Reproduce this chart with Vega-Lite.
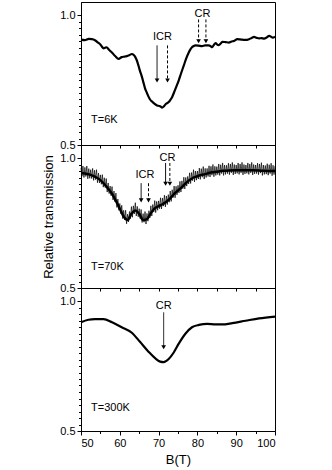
{
  "$schema": "https://vega.github.io/schema/vega-lite/v6.json",
  "padding": {"left": 42, "top": 1, "right": 5, "bottom": 0},
  "background": "white",
  "config": {
    "view": {"stroke": "black", "strokeWidth": 1},
    "axis": {"domainColor": "black", "tickColor": "black", "labelColor": "black", "titleColor": "black", "grid": false, "labelFont": "Liberation Sans", "titleFont": "Liberation Sans", "titleFontWeight": "normal", "labelFontSize": 11, "labelOverlap": false},
    "text": {"font": "Liberation Sans", "fontSize": 11, "color": "black"}
  },
  "datasets": {
    "p1": [
      {"B": 50, "v": 0.905}, {"B": 51, "v": 0.903}, {"B": 52, "v": 0.908}, {"B": 52.8, "v": 0.907}, {"B": 53.6, "v": 0.903},
      {"B": 54.3, "v": 0.895}, {"B": 54.9, "v": 0.888}, {"B": 55.4, "v": 0.878}, {"B": 55.8, "v": 0.872}, {"B": 56.2, "v": 0.874},
      {"B": 56.6, "v": 0.876}, {"B": 57.2, "v": 0.866}, {"B": 57.9, "v": 0.857}, {"B": 58.8, "v": 0.842}, {"B": 59.7, "v": 0.831},
      {"B": 60.5, "v": 0.838}, {"B": 61.2, "v": 0.84}, {"B": 61.8, "v": 0.842}, {"B": 62.5, "v": 0.846}, {"B": 63.1, "v": 0.85},
      {"B": 63.6, "v": 0.846}, {"B": 64.0, "v": 0.838}, {"B": 64.4, "v": 0.825}, {"B": 64.8, "v": 0.806}, {"B": 65.2, "v": 0.785},
      {"B": 65.7, "v": 0.762}, {"B": 66.1, "v": 0.74}, {"B": 66.5, "v": 0.718}, {"B": 67.0, "v": 0.7}, {"B": 67.4, "v": 0.686},
      {"B": 67.8, "v": 0.675}, {"B": 68.3, "v": 0.667}, {"B": 68.9, "v": 0.659}, {"B": 69.6, "v": 0.652}, {"B": 70.2, "v": 0.65},
      {"B": 70.5, "v": 0.648}, {"B": 70.9, "v": 0.644}, {"B": 71.3, "v": 0.648}, {"B": 71.7, "v": 0.655}, {"B": 72.1, "v": 0.66},
      {"B": 72.6, "v": 0.665}, {"B": 73.0, "v": 0.673}, {"B": 73.5, "v": 0.685}, {"B": 73.9, "v": 0.699}, {"B": 74.5, "v": 0.722},
      {"B": 75.2, "v": 0.749}, {"B": 75.8, "v": 0.776}, {"B": 76.5, "v": 0.806}, {"B": 77.1, "v": 0.832}, {"B": 77.8, "v": 0.857},
      {"B": 78.2, "v": 0.868}, {"B": 78.6, "v": 0.876}, {"B": 79.0, "v": 0.88}, {"B": 79.5, "v": 0.883}, {"B": 80.3, "v": 0.882},
      {"B": 81.2, "v": 0.88}, {"B": 82.0, "v": 0.883}, {"B": 82.9, "v": 0.883}, {"B": 83.4, "v": 0.88}, {"B": 83.8, "v": 0.876},
      {"B": 84.2, "v": 0.884}, {"B": 84.7, "v": 0.892}, {"B": 85.1, "v": 0.886}, {"B": 85.5, "v": 0.884}, {"B": 86.0, "v": 0.89},
      {"B": 86.4, "v": 0.897}, {"B": 87.2, "v": 0.896}, {"B": 88.1, "v": 0.894}, {"B": 88.8, "v": 0.898}, {"B": 89.4, "v": 0.9},
      {"B": 90.3, "v": 0.907}, {"B": 91.0, "v": 0.906}, {"B": 91.6, "v": 0.905}, {"B": 92.4, "v": 0.904}, {"B": 93.3, "v": 0.907},
      {"B": 94.0, "v": 0.912}, {"B": 94.6, "v": 0.916}, {"B": 95.3, "v": 0.912}, {"B": 95.9, "v": 0.91}, {"B": 96.5, "v": 0.911},
      {"B": 97.2, "v": 0.909}, {"B": 97.9, "v": 0.914}, {"B": 98.5, "v": 0.92}, {"B": 99.0, "v": 0.916}, {"B": 99.4, "v": 0.913},
      {"B": 100, "v": 0.917}
    ],
    "p2m": [
      {"B": 50, "v": 0.942}, {"B": 51, "v": 0.94}, {"B": 52, "v": 0.937}, {"B": 53, "v": 0.932}, {"B": 54, "v": 0.925},
      {"B": 55, "v": 0.915}, {"B": 56, "v": 0.9}, {"B": 57, "v": 0.882}, {"B": 58, "v": 0.862}, {"B": 59, "v": 0.835},
      {"B": 60, "v": 0.805}, {"B": 61, "v": 0.775}, {"B": 62, "v": 0.762}, {"B": 63, "v": 0.785}, {"B": 64, "v": 0.798},
      {"B": 65, "v": 0.785}, {"B": 66, "v": 0.762}, {"B": 67, "v": 0.765}, {"B": 68, "v": 0.788}, {"B": 69, "v": 0.806},
      {"B": 70, "v": 0.815}, {"B": 71, "v": 0.822}, {"B": 72, "v": 0.832}, {"B": 73, "v": 0.845}, {"B": 74, "v": 0.862},
      {"B": 75, "v": 0.875}, {"B": 76, "v": 0.888}, {"B": 77, "v": 0.903}, {"B": 78, "v": 0.915}, {"B": 79, "v": 0.925},
      {"B": 80, "v": 0.93}, {"B": 81, "v": 0.935}, {"B": 82, "v": 0.938}, {"B": 83, "v": 0.942}, {"B": 84, "v": 0.945},
      {"B": 85, "v": 0.947}, {"B": 86, "v": 0.95}, {"B": 87, "v": 0.951}, {"B": 88, "v": 0.952}, {"B": 90, "v": 0.953},
      {"B": 94, "v": 0.953}, {"B": 97, "v": 0.951}, {"B": 100, "v": 0.95}
    ],
    "p2n": [
      {"B": 50.00, "v": 0.962}, {"B": 50.25, "v": 0.930}, {"B": 50.50, "v": 0.969}, {"B": 50.75, "v": 0.925}, {"B": 51.00, "v": 0.964},
      {"B": 51.25, "v": 0.929}, {"B": 51.50, "v": 0.969}, {"B": 51.75, "v": 0.920}, {"B": 52.00, "v": 0.959}, {"B": 52.25, "v": 0.922},
      {"B": 52.50, "v": 0.955}, {"B": 52.75, "v": 0.921}, {"B": 53.00, "v": 0.960}, {"B": 53.25, "v": 0.914}, {"B": 53.50, "v": 0.953},
      {"B": 53.75, "v": 0.917}, {"B": 54.00, "v": 0.955}, {"B": 54.25, "v": 0.905}, {"B": 54.50, "v": 0.942}, {"B": 54.75, "v": 0.904},
      {"B": 55.00, "v": 0.935}, {"B": 55.25, "v": 0.899}, {"B": 55.50, "v": 0.936}, {"B": 55.75, "v": 0.888}, {"B": 56.00, "v": 0.924},
      {"B": 56.25, "v": 0.886}, {"B": 56.50, "v": 0.921}, {"B": 56.75, "v": 0.869}, {"B": 57.00, "v": 0.904}, {"B": 57.25, "v": 0.863},
      {"B": 57.50, "v": 0.892}, {"B": 57.75, "v": 0.855}, {"B": 58.00, "v": 0.890}, {"B": 58.25, "v": 0.839}, {"B": 58.50, "v": 0.873},
      {"B": 58.75, "v": 0.832}, {"B": 59.00, "v": 0.865}, {"B": 59.25, "v": 0.810}, {"B": 59.50, "v": 0.842}, {"B": 59.75, "v": 0.799},
      {"B": 60.00, "v": 0.825}, {"B": 60.25, "v": 0.786}, {"B": 60.50, "v": 0.818}, {"B": 60.75, "v": 0.767}, {"B": 61.00, "v": 0.799},
      {"B": 61.25, "v": 0.762}, {"B": 61.50, "v": 0.799}, {"B": 61.75, "v": 0.747}, {"B": 62.00, "v": 0.784}, {"B": 62.25, "v": 0.754},
      {"B": 62.50, "v": 0.794}, {"B": 62.75, "v": 0.767}, {"B": 63.00, "v": 0.813}, {"B": 63.25, "v": 0.772}, {"B": 63.50, "v": 0.816},
      {"B": 63.75, "v": 0.785}, {"B": 64.00, "v": 0.828}, {"B": 64.25, "v": 0.777}, {"B": 64.50, "v": 0.814}, {"B": 64.75, "v": 0.774},
      {"B": 65.00, "v": 0.805}, {"B": 65.25, "v": 0.767}, {"B": 65.50, "v": 0.802}, {"B": 65.75, "v": 0.752}, {"B": 66.00, "v": 0.786},
      {"B": 66.25, "v": 0.753}, {"B": 66.50, "v": 0.794}, {"B": 66.75, "v": 0.746}, {"B": 67.00, "v": 0.787}, {"B": 67.25, "v": 0.757},
      {"B": 67.50, "v": 0.797}, {"B": 67.75, "v": 0.770}, {"B": 68.00, "v": 0.816}, {"B": 68.25, "v": 0.777}, {"B": 68.50, "v": 0.821},
      {"B": 68.75, "v": 0.792}, {"B": 69.00, "v": 0.836}, {"B": 69.25, "v": 0.790}, {"B": 69.50, "v": 0.833}, {"B": 69.75, "v": 0.799},
      {"B": 70.00, "v": 0.835}, {"B": 70.25, "v": 0.805}, {"B": 70.50, "v": 0.847}, {"B": 70.75, "v": 0.804}, {"B": 71.00, "v": 0.846},
      {"B": 71.25, "v": 0.815}, {"B": 71.50, "v": 0.857}, {"B": 71.75, "v": 0.812}, {"B": 72.00, "v": 0.854}, {"B": 72.25, "v": 0.821},
      {"B": 72.50, "v": 0.859}, {"B": 72.75, "v": 0.830}, {"B": 73.00, "v": 0.873}, {"B": 73.25, "v": 0.833}, {"B": 73.50, "v": 0.878},
      {"B": 73.75, "v": 0.848}, {"B": 74.00, "v": 0.892}, {"B": 74.25, "v": 0.847}, {"B": 74.50, "v": 0.891}, {"B": 74.75, "v": 0.858},
      {"B": 75.00, "v": 0.895}, {"B": 75.25, "v": 0.866}, {"B": 75.50, "v": 0.910}, {"B": 75.75, "v": 0.869}, {"B": 76.00, "v": 0.912},
      {"B": 76.25, "v": 0.882}, {"B": 76.50, "v": 0.926}, {"B": 76.75, "v": 0.881}, {"B": 77.00, "v": 0.925}, {"B": 77.25, "v": 0.892},
      {"B": 77.50, "v": 0.929}, {"B": 77.75, "v": 0.900}, {"B": 78.00, "v": 0.943}, {"B": 78.25, "v": 0.902}, {"B": 78.50, "v": 0.944},
      {"B": 78.75, "v": 0.913}, {"B": 79.00, "v": 0.955}, {"B": 79.25, "v": 0.908}, {"B": 79.50, "v": 0.950}, {"B": 79.75, "v": 0.915},
      {"B": 80.00, "v": 0.950}, {"B": 80.25, "v": 0.919}, {"B": 80.50, "v": 0.961}, {"B": 80.75, "v": 0.918}, {"B": 81.00, "v": 0.959},
      {"B": 81.25, "v": 0.926}, {"B": 81.50, "v": 0.967}, {"B": 81.75, "v": 0.919}, {"B": 82.00, "v": 0.960}, {"B": 82.25, "v": 0.925},
      {"B": 82.50, "v": 0.960}, {"B": 82.75, "v": 0.929}, {"B": 83.00, "v": 0.970}, {"B": 83.25, "v": 0.927}, {"B": 83.50, "v": 0.968},
      {"B": 83.75, "v": 0.934}, {"B": 84.00, "v": 0.975}, {"B": 84.25, "v": 0.928}, {"B": 84.50, "v": 0.968}, {"B": 84.75, "v": 0.933},
      {"B": 85.00, "v": 0.967}, {"B": 85.25, "v": 0.936}, {"B": 85.50, "v": 0.977}, {"B": 85.75, "v": 0.933}, {"B": 86.00, "v": 0.974},
      {"B": 86.25, "v": 0.940}, {"B": 86.50, "v": 0.981}, {"B": 86.75, "v": 0.933}, {"B": 87.00, "v": 0.973}, {"B": 87.25, "v": 0.937},
      {"B": 87.50, "v": 0.972}, {"B": 87.75, "v": 0.940}, {"B": 88.00, "v": 0.980}, {"B": 88.25, "v": 0.936}, {"B": 88.50, "v": 0.977},
      {"B": 88.75, "v": 0.943}, {"B": 89.00, "v": 0.983}, {"B": 89.25, "v": 0.935}, {"B": 89.50, "v": 0.975}, {"B": 89.75, "v": 0.939},
      {"B": 90.00, "v": 0.973}, {"B": 90.25, "v": 0.941}, {"B": 90.50, "v": 0.981}, {"B": 90.75, "v": 0.937}, {"B": 91.00, "v": 0.977},
      {"B": 91.25, "v": 0.943}, {"B": 91.50, "v": 0.983}, {"B": 91.75, "v": 0.935}, {"B": 92.00, "v": 0.975}, {"B": 92.25, "v": 0.939},
      {"B": 92.50, "v": 0.973}, {"B": 92.75, "v": 0.941}, {"B": 93.00, "v": 0.981}, {"B": 93.25, "v": 0.937}, {"B": 93.50, "v": 0.977},
      {"B": 93.75, "v": 0.943}, {"B": 94.00, "v": 0.983}, {"B": 94.25, "v": 0.935}, {"B": 94.50, "v": 0.975}, {"B": 94.75, "v": 0.939},
      {"B": 95.00, "v": 0.973}, {"B": 95.25, "v": 0.940}, {"B": 95.50, "v": 0.980}, {"B": 95.75, "v": 0.936}, {"B": 96.00, "v": 0.977},
      {"B": 96.25, "v": 0.942}, {"B": 96.50, "v": 0.982}, {"B": 96.75, "v": 0.933}, {"B": 97.00, "v": 0.973}, {"B": 97.25, "v": 0.937},
      {"B": 97.50, "v": 0.971}, {"B": 97.75, "v": 0.938}, {"B": 98.00, "v": 0.978}, {"B": 98.25, "v": 0.934}, {"B": 98.50, "v": 0.974},
      {"B": 98.75, "v": 0.940}, {"B": 99.00, "v": 0.980}, {"B": 99.25, "v": 0.932}, {"B": 99.50, "v": 0.972}, {"B": 99.75, "v": 0.936},
      {"B": 100.00, "v": 0.970}
    ],
    "p3": [
      {"B": 50, "v": 0.918}, {"B": 51.9, "v": 0.928}, {"B": 53.6, "v": 0.93}, {"B": 55.8, "v": 0.93}, {"B": 58.0, "v": 0.918},
      {"B": 60.5, "v": 0.899}, {"B": 63.1, "v": 0.878}, {"B": 65.2, "v": 0.843}, {"B": 67.4, "v": 0.805}, {"B": 69.1, "v": 0.78},
      {"B": 70.4, "v": 0.767}, {"B": 71.3, "v": 0.765}, {"B": 72.6, "v": 0.777}, {"B": 73.9, "v": 0.802}, {"B": 75.2, "v": 0.836},
      {"B": 76.9, "v": 0.874}, {"B": 78.6, "v": 0.899}, {"B": 80.4, "v": 0.908}, {"B": 82.5, "v": 0.912}, {"B": 84.7, "v": 0.91},
      {"B": 86.4, "v": 0.91}, {"B": 89.0, "v": 0.915}, {"B": 92.4, "v": 0.924}, {"B": 95.9, "v": 0.933}, {"B": 100, "v": 0.94}
    ],
    "arrows": [
      {"panel": 1, "B": 69.6, "v": 0.883, "v2": 0.748, "style": "solid"},
      {"panel": 1, "B": 72.3, "v": 0.883, "v2": 0.748, "style": "dashed"},
      {"panel": 1, "B": 80.3, "v": 0.983, "v2": 0.899, "style": "dashed"},
      {"panel": 1, "B": 82.2, "v": 0.983, "v2": 0.899, "style": "dashed"},
      {"panel": 2, "B": 65.5, "v": 0.903, "v2": 0.837, "style": "solid"},
      {"panel": 2, "B": 67.4, "v": 0.903, "v2": 0.837, "style": "dashed"},
      {"panel": 2, "B": 71.8, "v": 0.981, "v2": 0.901, "style": "solid"},
      {"panel": 2, "B": 72.9, "v": 0.981, "v2": 0.901, "style": "dashed"},
      {"panel": 3, "B": 71.3, "v": 0.956, "v2": 0.822, "style": "solid"}
    ],
    "heads": [
      {"panel": 1, "B": 69.6, "v": 0.748}, {"panel": 1, "B": 72.3, "v": 0.748},
      {"panel": 1, "B": 80.3, "v": 0.899}, {"panel": 1, "B": 82.2, "v": 0.899},
      {"panel": 2, "B": 65.5, "v": 0.837}, {"panel": 2, "B": 67.4, "v": 0.837},
      {"panel": 2, "B": 71.8, "v": 0.901}, {"panel": 2, "B": 72.9, "v": 0.901},
      {"panel": 3, "B": 71.3, "v": 0.822}
    ],
    "labels": [
      {"panel": 1, "kind": "c", "B": 71.0, "v": 0.914, "text": "ICR"},
      {"panel": 1, "kind": "c", "B": 81.3, "v": 1.005, "text": "CR"},
      {"panel": 1, "kind": "t", "B": 52.6, "v": 0.598, "text": "T=6K"},
      {"panel": 2, "kind": "c", "B": 66.5, "v": 0.936, "text": "ICR"},
      {"panel": 2, "kind": "c", "B": 72.3, "v": 0.999, "text": "CR"},
      {"panel": 2, "kind": "t", "B": 52.6, "v": 0.58, "text": "T=70K"},
      {"panel": 3, "kind": "c", "B": 71.3, "v": 0.981, "text": "CR"},
      {"panel": 3, "kind": "t", "B": 52.6, "v": 0.59, "text": "T=300K"}
    ]
  },
  "vconcat": [
    {
      "width": 194, "height": 143,
      "encoding": {
        "x": {"field": "B", "type": "quantitative", "scale": {"domain": [50, 100], "nice": false},
              "axis": {"values": [50, 55, 60, 65, 70, 75, 80, 85, 90, 95, 100], "labels": false, "title": null, "tickSize": 3}},
        "y": {"field": "v", "type": "quantitative", "scale": {"domain": [0.5, 1.05], "nice": false, "zero": false},
              "axis": {"values": [0.5, 0.525, 0.55, 0.575, 0.6, 0.625, 0.65, 0.675, 0.7, 0.725, 0.75, 0.775, 0.8, 0.825, 0.85, 0.875, 0.9, 0.925, 0.95, 0.975, 1],
                       "labelExpr": "datum.value == 0.5 || datum.value == 1 ? format(datum.value, '.1f') : ''",
                       "tickSize": {"condition": {"test": "datum.value == 0.5 || datum.value == 1", "value": 4}, "value": 2.5},
                       "labelPadding": 2, "title": null}}
      },
      "layer": [
        {"data": {"name": "p1"}, "mark": {"type": "line", "color": "black", "strokeWidth": 2.2, "interpolate": "monotone"}},
        {"data": {"name": "arrows"}, "transform": [{"filter": "datum.panel == 1"}],
         "mark": {"type": "rule", "color": "black", "strokeWidth": 1},
         "encoding": {"y2": {"field": "v2"}, "strokeDash": {"field": "style", "type": "nominal", "scale": {"domain": ["solid", "dashed"], "range": [[1, 0], [3, 2]]}, "legend": null}}},
        {"data": {"name": "heads"}, "transform": [{"filter": "datum.panel == 1"}],
         "mark": {"type": "point", "shape": "triangle-down", "filled": true, "color": "black", "size": 22, "opacity": 1}},
        {"data": {"name": "labels"}, "transform": [{"filter": "datum.panel == 1 && datum.kind == 'c'"}],
         "mark": {"type": "text", "align": "center", "baseline": "middle", "fontSize": 11},
         "encoding": {"text": {"field": "text"}}},
        {"data": {"name": "labels"}, "transform": [{"filter": "datum.panel == 1 && datum.kind == 't'"}],
         "mark": {"type": "text", "align": "left", "baseline": "middle", "fontSize": 11},
         "encoding": {"text": {"field": "text"}}}
      ]
    },
    {
      "width": 194, "height": 143,
      "encoding": {
        "x": {"field": "B", "type": "quantitative", "scale": {"domain": [50, 100], "nice": false},
              "axis": {"values": [50, 55, 60, 65, 70, 75, 80, 85, 90, 95, 100], "labels": false, "title": null, "tickSize": 3}},
        "y": {"field": "v", "type": "quantitative", "scale": {"domain": [0.5, 1.05], "nice": false, "zero": false},
              "axis": {"values": [0.5, 0.525, 0.55, 0.575, 0.6, 0.625, 0.65, 0.675, 0.7, 0.725, 0.75, 0.775, 0.8, 0.825, 0.85, 0.875, 0.9, 0.925, 0.95, 0.975, 1],
                       "labelExpr": "datum.value == 0.5 || datum.value == 1 ? format(datum.value, '.1f') : ''",
                       "tickSize": {"condition": {"test": "datum.value == 0.5 || datum.value == 1", "value": 4}, "value": 2.5},
                       "labelPadding": 2, "title": "Relative transmission", "titleFontSize": 13, "titlePadding": 4}}
      },
      "layer": [
        {"data": {"name": "p2m"}, "mark": {"type": "line", "color": "black", "strokeWidth": 2.5, "interpolate": "monotone"}},
        {"data": {"name": "p2n"}, "mark": {"type": "line", "color": "black", "strokeWidth": 0.7}},
        {"data": {"name": "arrows"}, "transform": [{"filter": "datum.panel == 2"}],
         "mark": {"type": "rule", "color": "black", "strokeWidth": 1},
         "encoding": {"y2": {"field": "v2"}, "strokeDash": {"field": "style", "type": "nominal", "scale": {"domain": ["solid", "dashed"], "range": [[1, 0], [3, 2]]}, "legend": null}}},
        {"data": {"name": "heads"}, "transform": [{"filter": "datum.panel == 2"}],
         "mark": {"type": "point", "shape": "triangle-down", "filled": true, "color": "black", "size": 22, "opacity": 1}},
        {"data": {"name": "labels"}, "transform": [{"filter": "datum.panel == 2 && datum.kind == 'c'"}],
         "mark": {"type": "text", "align": "center", "baseline": "middle", "fontSize": 11},
         "encoding": {"text": {"field": "text"}}},
        {"data": {"name": "labels"}, "transform": [{"filter": "datum.panel == 2 && datum.kind == 't'"}],
         "mark": {"type": "text", "align": "left", "baseline": "middle", "fontSize": 11},
         "encoding": {"text": {"field": "text"}}}
      ]
    },
    {
      "width": 194, "height": 143,
      "encoding": {
        "x": {"field": "B", "type": "quantitative", "scale": {"domain": [50, 100], "nice": false},
              "axis": {"values": [50, 55, 60, 65, 70, 75, 80, 85, 90, 95, 100],
                       "labelExpr": "datum.value % 10 == 0 ? datum.label : ''",
                       "tickSize": {"condition": {"test": "datum.value % 10 == 0", "value": 4}, "value": 2.5},
                       "labelPadding": 2, "title": "B(T)", "titleFontSize": 13, "titlePadding": 5}},
        "y": {"field": "v", "type": "quantitative", "scale": {"domain": [0.5, 1.05], "nice": false, "zero": false},
              "axis": {"values": [0.5, 0.525, 0.55, 0.575, 0.6, 0.625, 0.65, 0.675, 0.7, 0.725, 0.75, 0.775, 0.8, 0.825, 0.85, 0.875, 0.9, 0.925, 0.95, 0.975, 1],
                       "labelExpr": "datum.value == 0.5 || datum.value == 1 ? format(datum.value, '.1f') : ''",
                       "tickSize": {"condition": {"test": "datum.value == 0.5 || datum.value == 1", "value": 4}, "value": 2.5},
                       "labelPadding": 2, "title": null}}
      },
      "layer": [
        {"data": {"name": "p3"}, "mark": {"type": "line", "color": "black", "strokeWidth": 2.2, "interpolate": "monotone"}},
        {"data": {"name": "arrows"}, "transform": [{"filter": "datum.panel == 3"}],
         "mark": {"type": "rule", "color": "black", "strokeWidth": 1},
         "encoding": {"y2": {"field": "v2"}, "strokeDash": {"field": "style", "type": "nominal", "scale": {"domain": ["solid", "dashed"], "range": [[1, 0], [3, 2]]}, "legend": null}}},
        {"data": {"name": "heads"}, "transform": [{"filter": "datum.panel == 3"}],
         "mark": {"type": "point", "shape": "triangle-down", "filled": true, "color": "black", "size": 22, "opacity": 1}},
        {"data": {"name": "labels"}, "transform": [{"filter": "datum.panel == 3 && datum.kind == 'c'"}],
         "mark": {"type": "text", "align": "center", "baseline": "middle", "fontSize": 11},
         "encoding": {"text": {"field": "text"}}},
        {"data": {"name": "labels"}, "transform": [{"filter": "datum.panel == 3 && datum.kind == 't'"}],
         "mark": {"type": "text", "align": "left", "baseline": "middle", "fontSize": 11},
         "encoding": {"text": {"field": "text"}}}
      ]
    }
  ],
  "spacing": 0,
  "bounds": "flush"
}
